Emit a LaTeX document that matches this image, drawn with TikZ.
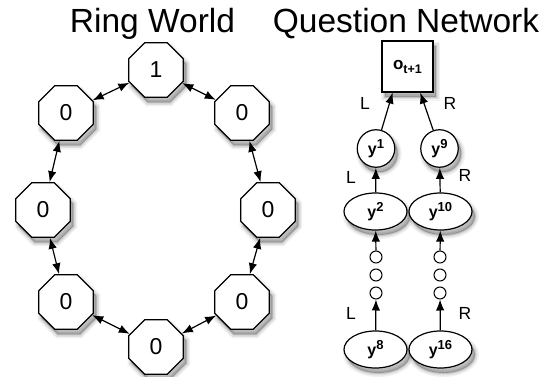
\documentclass[tikz,border=0pt]{standalone}
\usepackage{fontspec}
\setmainfont{Liberation Sans}
\usetikzlibrary{shapes.geometric,arrows.meta,calc}
\begin{document}
\begin{tikzpicture}[x=1pt,y=-1pt,line width=1.2pt,
  sh/.style={
    preaction={draw=black,line width=8pt,draw opacity=0.05,fill=black,fill opacity=0.05,transform canvas={shift={(3pt,-5pt)}}},
    preaction={draw=black,line width=5pt,draw opacity=0.08,fill=black,fill opacity=0.08,transform canvas={shift={(3pt,-5pt)}}},
    preaction={draw=black,line width=2pt,draw opacity=0.12,fill=black,fill opacity=0.12,transform canvas={shift={(3pt,-5pt)}}}},
  oct/.style={regular polygon,regular polygon sides=8,draw,fill=white,minimum size=59pt,inner sep=0pt,sh,font=\fontsize{23}{23}\selectfont},
  circ/.style={circle,draw,fill=white,minimum size=37.5pt,inner sep=0pt,sh,font=\fontsize{16}{16}\selectfont\bfseries},
  ell/.style={ellipse,draw,fill=white,minimum width=63pt,minimum height=37pt,inner sep=0pt,sh,font=\fontsize{16}{16}\selectfont\bfseries},
  dot/.style={circle,draw,fill=white,line width=1pt,minimum size=12pt,inner sep=0pt},
  sq/.style={rectangle,draw,fill=white,minimum size=51pt,inner sep=0pt,sh,font=\fontsize{17}{17}\selectfont\bfseries},
  ttl/.style={anchor=base,font=\fontsize{33.5}{36}\selectfont},
  lbl/.style={font=\fontsize{17.5}{17.5}\selectfont},
  arr/.style={-{Latex[length=11pt,width=8.5pt]}},
  darr/.style={{Latex[length=11pt,width=8.5pt]}-{Latex[length=11pt,width=8.5pt]}}]
\useasboundingbox (0,0) rectangle (546,377);
\newcommand\supr[1]{\raisebox{6pt}{\fontsize{13}{13}\selectfont #1}}
% titles
\node[ttl] (t1) at (152.5,33) {Ring World};
\node[ttl] (t2) at (406,33) {Question Network};
% ring world
\node[oct] (r1) at (156,70) {1};
\node[oct] (r2) at (242,113) {0};
\node[oct] (r3) at (268,210) {0};
\node[oct] (r4) at (242,302) {0};
\node[oct] (r5) at (156,347) {0};
\node[oct] (r6) at (66,302) {0};
\node[oct] (r7) at (43,210) {0};
\node[oct] (r8) at (66,113) {0};
\foreach \a/\b in {r1/r2,r2/r3,r3/r4,r4/r5,r5/r6,r6/r7,r7/r8,r8/r1}
  \draw[darr] (\a) -- (\b);
% question network
\node[sq] (o) at (407.5,66.5) {o\raisebox{-4pt}{\fontsize{12.5}{12.5}\selectfont t+1}};
\node[circ] (y1) at (376,148.5) {y\supr{1}};
\node[circ] (y9) at (439.5,148.5) {y\supr{9}};
\node[ell] (y2) at (375.5,211.5) {y\supr{2}};
\node[ell] (y10) at (440.5,211.5) {y\supr{10}};
\node[dot] (a1) at (376,257) {};
\node[dot] (a2) at (376,275) {};
\node[dot] (a3) at (376,293) {};
\node[dot] (b1) at (440,257) {};
\node[dot] (b2) at (440,275) {};
\node[dot] (b3) at (440,293) {};
\node[ell] (y8) at (375.5,349.5) {y\supr{8}};
\node[ell] (y16) at (440.5,349.5) {y\supr{16}};
\coordinate (oL) at ($(o.south west)!0.216!(o.south east)$);
\coordinate (oR) at ($(o.south west)!0.745!(o.south east)$);
\draw[arr] (y1) -- (oL);
\draw[arr] (y9) -- (oR);
\draw[arr] (y2) -- (y1);
\draw[arr] (y10) -- (y9);
\draw[arr] (a1) -- (y2);
\draw[arr] (b1) -- (y10);
\draw[arr] (y8) -- (a3);
\draw[arr] (y16) -- (b3);
\node[lbl] (l1) at (365,103) {L};
\node[lbl] (l2) at (450,103) {R};
\node[lbl] (l3) at (351,177) {L};
\node[lbl] (l4) at (465,175) {R};
\node[lbl] (l5) at (351,313) {L};
\node[lbl] (l6) at (465,313) {R};
\end{tikzpicture}
\end{document}
